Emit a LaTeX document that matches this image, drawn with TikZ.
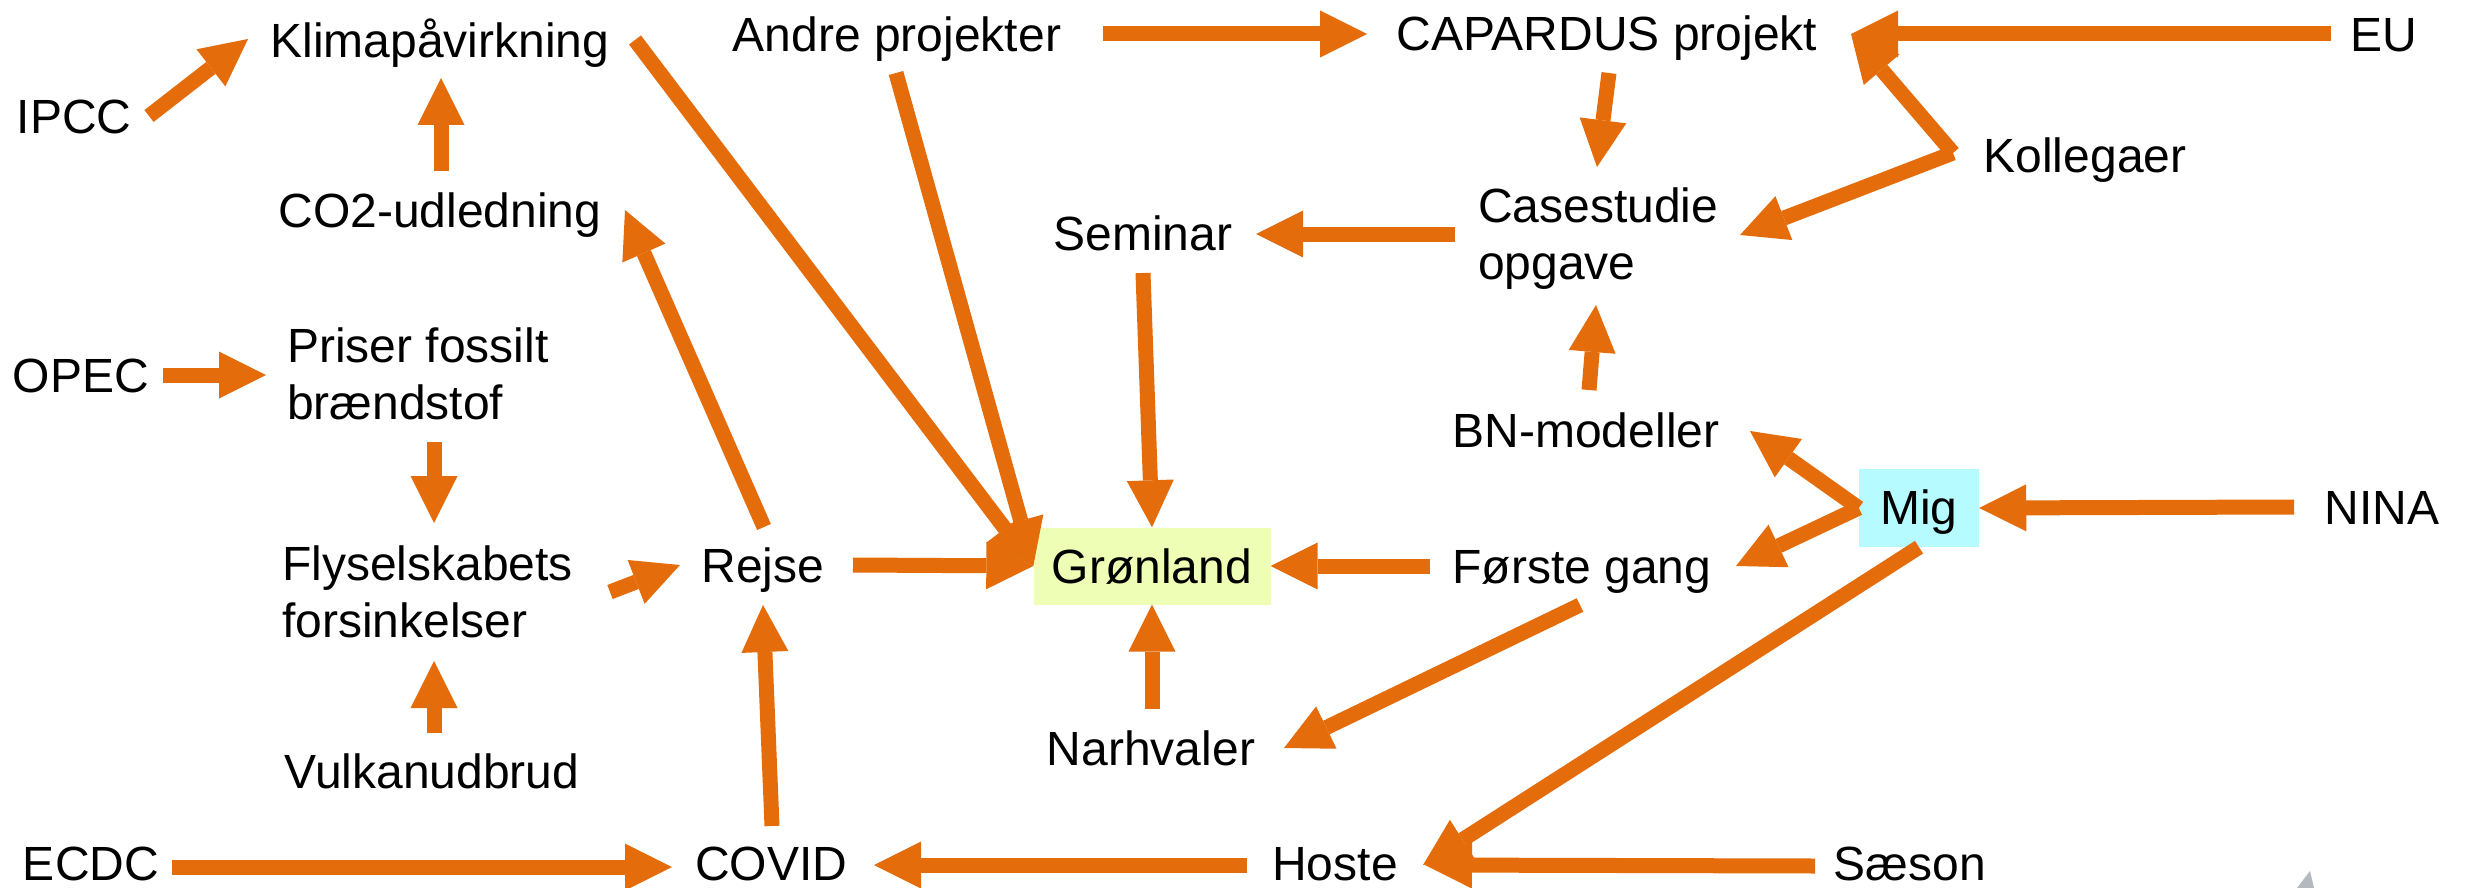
\documentclass[tikz,border=0pt]{standalone}
\usepackage{fontspec}
\setmainfont{Liberation Sans}
\usetikzlibrary{arrows.meta,calc}
\definecolor{arrorange}{HTML}{E46C0A}
\definecolor{gronfill}{HTML}{EEFFB5}
\definecolor{migfill}{HTML}{B5FBFF}
\definecolor{triggray}{HTML}{B4B9BF}
\newcommand{\twolines}[2]{\vtop{\baselineskip=57.5pt\hbox{#1}\hbox{#2}}}
\begin{document}
\begin{tikzpicture}[x=1pt,y=-1pt,
  lbl/.style={inner sep=0pt, font=\fontsize{48}{57.5}\selectfont, anchor=base},
  lblw/.style={lbl, anchor=base west},
  boxnode/.style={inner sep=0pt, font=\fontsize{48}{57.5}\selectfont, anchor=center},
  arr/.style={draw=arrorange, line width=15pt, -{Triangle[length=47pt,width=47pt,line width=0pt]}}
]
\fill[white] (0,0) rectangle (2478,888);
\useasboundingbox (0,0) rectangle (2478,888);

% nodes
\node[lbl] (ipcc) at (74,133) {IPCC};
\node[lbl] (klima) at (440,58) {Klimapåvirkning};
\node[lbl] (andre) at (897,52) {Andre projekter};
\node[lbl] (capardus) at (1607,51) {CAPARDUS projekt};
\node[lbl] (eu) at (2384,52) {EU};
\node[lbl] (kolleg) at (2085,172) {Kollegaer};
\node[lbl] (co2) at (440,227) {CO2-udledning};
\node[lbl] (seminar) at (1143,250) {Seminar};
\node[lblw] (case) at (1478,222) {\twolines{Casestudie}{opgave}};
\node[lbl] (opec) at (81,392) {OPEC};
\node[lblw] (priser) at (287,362) {\twolines{Priser fossilt}{brændstof}};
\node[lbl] (bn) at (1586,447) {BN-modeller};
\node[boxnode, fill=migfill, minimum width=120pt, minimum height=78pt, text height=37pt, text depth=5pt] (mig) at (1919,508) {Mig};
\node[lbl] (nina) at (2382,524) {NINA};
\node[lblw] (flysel) at (282,580) {\twolines{Flyselskabets}{forsinkelser}};
\node[lbl] (rejse) at (763,582) {Rejse};
\node[boxnode, fill=gronfill, minimum width=237pt, minimum height=77pt, text height=34pt, text depth=0pt] (gron) at (1152,566) {Grønland};
\node[lbl] (forste) at (1582,583) {Første gang};
\node[lbl] (narh) at (1151,765) {Narhvaler};
\node[lbl] (vulkan) at (432,788) {Vulkanudbrud};
\node[lbl] (ecdc) at (91,880) {ECDC};
\node[lbl] (covid) at (771,880) {COVID};
\node[lbl] (hoste) at (1335,880) {Hoste};
\node[lbl] (saeson) at (1910,880) {Sæson};

% connectors
\draw[arr] ($(ipcc.base)+(75,-17)$) -- ($(klima.base)+(-192,-19)$);
\draw[arr] ($(co2.base)+(1,-56)$) -- ($(klima.base)+(1,20)$);
\draw[arr] ($(klima.base)+(195,-18)$) -- (gron.west);
\draw[arr] ($(andre.base)+(-1,21)$) -- (gron.west);
\draw[arr] ($(andre.base)+(206,-18)$) -- ($(capardus.base)+(-240,-17)$);
\draw[arr] ($(eu.base)+(-53,-18)$) -- ($(capardus.base)+(244,-17)$);
\draw[arr] ($(kolleg.base)+(-132,-19)$) -- ($(capardus.base)+(244,-17)$);
\draw[arr] ($(kolleg.base)+(-132,-19)$) -- ($(case.base west)+(262,13)$);
\draw[arr] ($(capardus.base)+(2,22)$) -- ($(case.base west)+(119,-55)$);
\draw[arr] ($(case.base west)+(-23,12)$) -- ($(seminar.base)+(113,-16)$);
\draw[arr] ($(seminar.base)+(0,23)$) -- (gron.north);
\draw[arr] ($(bn.base)+(3,-57)$) -- ($(case.base west)+(118,83)$);
\draw[arr] (mig.west) -- ($(bn.base)+(164,-16)$);
\draw[arr] (mig.west) -- ($(forste.base)+(154,-17)$);
\draw[arr] ($(nina.base)+(-88,-17)$) -- (mig.east);
\draw[arr] (mig.south) -- ($(hoste.base)+(88,-15)$);
\draw[arr] ($(forste.base)+(-152,-17)$) -- (gron.east);
\draw[arr] ($(forste.base)+(-2,22)$) -- ($(narh.base)+(133,-17)$);
\draw[arr] ($(narh.base)+(1,-56)$) -- (gron.south);
\draw[arr] ($(opec.base)+(82,-17)$) -- ($(priser.base west)+(-21,13)$);
\draw[arr] ($(priser.base west)+(147,80)$) -- ($(flysel.base west)+(152,-57)$);
\draw[arr] ($(vulkan.base)+(2,-55)$) -- ($(flysel.base west)+(152,81)$);
\draw[arr] ($(flysel.base west)+(328,12)$) -- ($(rejse.base)+(-83,-17)$);
\draw[arr] ($(rejse.base)+(1,-55)$) -- ($(co2.base)+(185,-17)$);
\draw[arr] ($(rejse.base)+(90,-17)$) -- (gron.west);
\draw[arr] ($(covid.base)+(1,-54)$) -- ($(rejse.base)+(0,23)$);
\draw[arr] ($(ecdc.base)+(81,-13)$) -- ($(covid.base)+(-99,-13)$);
\draw[arr] ($(hoste.base)+(-88,-15)$) -- ($(covid.base)+(103,-15)$);
\draw[arr] ($(saeson.base)+(-95,-14)$) -- ($(hoste.base)+(90,-15)$);

% partial grey shape at the lower right edge
\fill[triggray] (2297,888) -- (2310,871) -- (2314,888) -- cycle;
\end{tikzpicture}
\end{document}
